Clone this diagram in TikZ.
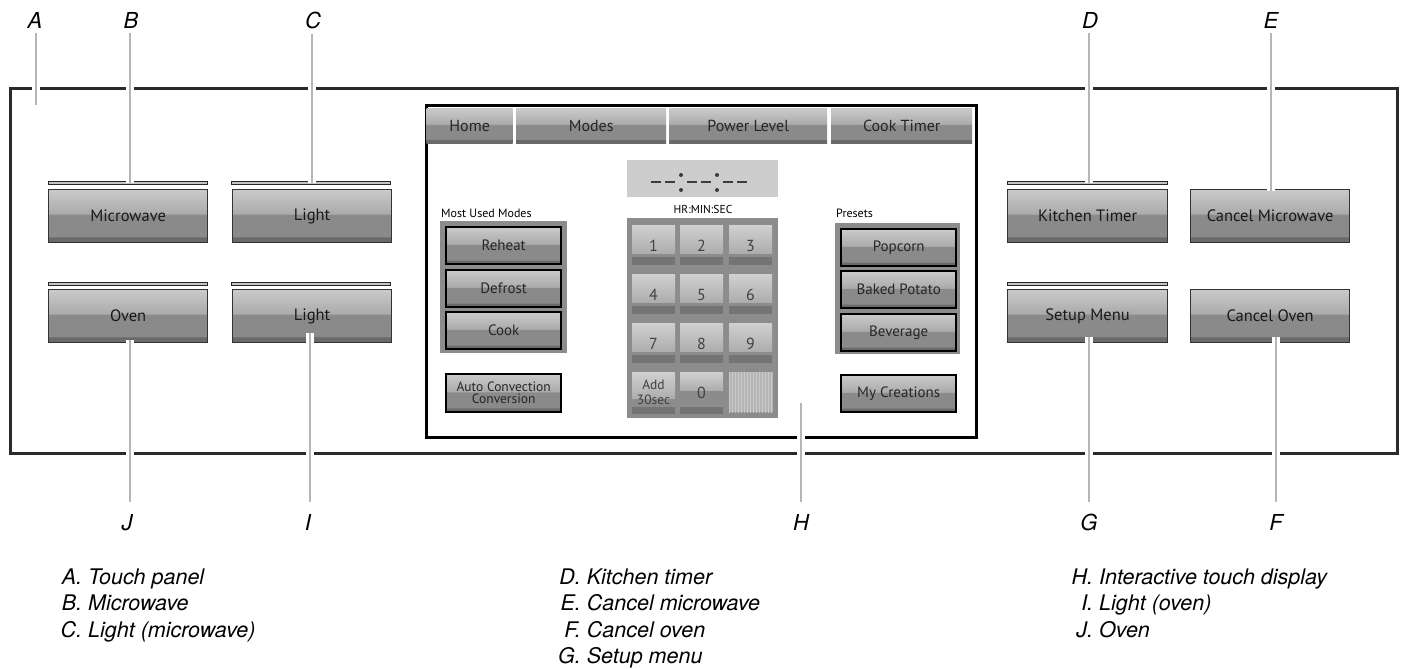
\documentclass[tikz,border=0pt]{standalone}
\usepackage{fontspec}
\newfontfamily\helv{TeX Gyre Heros}
\newfontfamily\uifont{PT Sans}
\usetikzlibrary{patterns}

\definecolor{panelline}{HTML}{2A2A2A}
\definecolor{btndark}{HTML}{6A6A6A}
\definecolor{btnmid}{HTML}{8A8A8A}
\definecolor{btnlow}{HTML}{ABABAB}
\definecolor{btntop}{HTML}{CACACA}
\definecolor{groupfill}{HTML}{8C8C8C}
\definecolor{leadergray}{HTML}{B6B6B6}
\definecolor{keylight}{HTML}{D0D0D0}
\definecolor{keylow}{HTML}{ADADAD}
\definecolor{keystrip}{HTML}{747474}
\definecolor{barfill}{HTML}{C4C4C4}
\definecolor{lcdfill}{HTML}{CDCDCD}
\definecolor{lcdink}{HTML}{3C3C3C}

% gradient used by every push button: dark foot, mid band, light top
\pgfdeclareverticalshading{btnshade}{100bp}{color(0bp)=(btndark); color(25bp)=(btndark); color(30bp)=(btndark); color(31bp)=(btnmid); color(51bp)=(btnmid); color(52.5bp)=(btnlow); color(75bp)=(btntop); color(100bp)=(btntop)}

\tikzset{
  hwbtn/.style={draw=black!80, line width=1.2pt, shading=btnshade, inner sep=0pt,
    minimum width=159pt, minimum height=53pt, anchor=north west,
    font=\uifont\fontsize{16.5}{18}\selectfont, text=black!90},
  sepbar/.style={draw=black!85, line width=1pt, fill=barfill, inner sep=0pt,
    minimum width=159pt, minimum height=3.5pt, anchor=center},
  tabbtn/.style={shading=btnshade, inner sep=0pt, minimum height=35pt, anchor=north west,
    font=\uifont\fontsize{16}{18}\selectfont, text=black!85},
  scrbtn/.style={draw=black, line width=2.4pt, shading=btnshade, inner sep=0pt,
    minimum width=115pt, minimum height=37pt, anchor=north west,
    font=\uifont\fontsize{15}{17}\selectfont, text=black!85},
  grouppanel/.style={fill=groupfill, inner sep=0pt, anchor=north west},
  keytop/.style={top color=keylight, bottom color=keylow, inner sep=0pt,
    minimum width=43pt, minimum height=28pt, anchor=north west},
  keynum/.style={font=\uifont\fontsize{16}{18}\selectfont, text=black!75, inner sep=0pt},
  smalltext/.style={font=\uifont\fontsize{12}{14}\selectfont, text=black, inner sep=0pt},
  callout/.style={font=\helv\itshape\fontsize{22}{22}\selectfont, inner sep=0pt, anchor=base},
  legend/.style={font=\helv\itshape\fontsize{21.5}{26.5}\selectfont, inner sep=0pt, anchor=base west},
  leader/.style={draw=leadergray, line width=1.8pt, preaction={draw=white, line width=8pt}},
}

\begin{document}
\begin{tikzpicture}[x=1pt,y=-1pt]
\useasboundingbox (0,0) rectangle (1401,669);
\fill[white] (0,0) rectangle (1401,669);

% ---- touch panel outline
\node[draw=panelline, line width=3pt, inner sep=0pt, minimum width=1387pt, minimum height=365pt,
      anchor=north west] (panel) at (9,87) {};

% ---- left button block
\node[sepbar] (barMW) at (127.5,183) {};
\node[sepbar] (barLU) at (311,183) {};
\node[sepbar] (barOV) at (127.5,284) {};
\node[sepbar] (barLL) at (311,284) {};
\node[hwbtn] (mw) at (48,189) {Microwave};
\node[hwbtn] (lu) at (232,189) {Light};
\node[hwbtn] (ov) at (48,289) {Oven};
\node[hwbtn] (ll) at (232,289) {Light};

% ---- right button block
\node[sepbar, minimum width=160pt] (barKT) at (1087,183) {};
\node[sepbar, minimum width=160pt] (barSM) at (1087,284) {};
\node[hwbtn, minimum width=160pt] (kt) at (1007,189) {Kitchen Timer};
\node[hwbtn] (cm) at (1190,189) {Cancel Microwave};
\node[hwbtn, minimum width=160pt] (sm) at (1007,289) {Setup Menu};
\node[hwbtn] (co) at (1190,289) {Cancel Oven};

% ---- interactive display
\node[draw=black, line width=3pt, inner sep=0pt, minimum width=550pt, minimum height=332pt,
      anchor=north west] (screen) at (425,104) {};
\node[tabbtn, minimum width=86pt] (tHome) at (426.5,108) {Home};
\node[tabbtn, minimum width=150pt] (tModes) at (516,108) {Modes};
\node[tabbtn, minimum width=158pt] (tPower) at (669,108) {Power Level};
\node[tabbtn, minimum width=141pt] (tCook) at (831,108) {Cook Timer};

% clock readout
\node[fill=lcdfill, inner sep=0pt, minimum width=151pt, minimum height=37pt, anchor=north west] (lcd) at (627,160) {};
\foreach \dx in {651,665,687,701,723,737}
  \draw[lcdink, line width=2.4pt] (\dx,182) -- ++(9.5,0);
\foreach \cx in {681,717}{
  \fill[lcdink] (\cx,175) circle (2pt);
  \fill[lcdink] (\cx,190) circle (2pt);
}
\node[smalltext, font=\uifont\fontsize{11.5}{13}\selectfont] (hms) at (703,209) {HR:MIN:SEC};

% most used modes
\node[smalltext, anchor=west] (mumLabel) at (441,213) {Most Used Modes};
\node[grouppanel, minimum width=127pt, minimum height=132pt] (mumPanel) at (440,221) {};
\node[scrbtn] (reheat) at (445,226) {Reheat};
\node[scrbtn] (defrost) at (445,269) {Defrost};
\node[scrbtn] (cook) at (445,311) {Cook};
\node[scrbtn, minimum height=38pt, align=center, font=\uifont\fontsize{13.5}{12}\selectfont] (acc) at (445,373) {Auto Convection\\Conversion};

% presets
\node[smalltext, anchor=west] (preLabel) at (836,213) {Presets};
\node[grouppanel, minimum width=125pt, minimum height=131pt] (prePanel) at (835,223) {};
\node[scrbtn] (popcorn) at (840,228) {Popcorn};
\node[scrbtn] (baked) at (840,270) {Baked Potato};
\node[scrbtn] (bev) at (840,313) {Beverage};
\node[scrbtn] (myc) at (840,374) {My Creations};

% keypad
\node[grouppanel, minimum width=151pt, minimum height=200pt] (keypad) at (627,218) {};
\foreach \c/\kx in {0/632,1/680,2/729}{
  \foreach \r/\ky in {0/225,1/274,2/323}{
    \pgfmathtruncatemacro\kn{\r*3+\c+1}
    \node[keytop] (key\kn) at (\kx,\ky) {};
    \node[keynum] (num\kn) at (\kx+21.5,\ky+21) {\kn};
    \fill[keystrip] (\kx,\ky+32) rectangle ++(43,8);
  }
}
\node[keytop, minimum height=26pt] (keyAdd) at (632,372) {};
\node[keynum, align=center, font=\uifont\fontsize{13.5}{15}\selectfont] (numAdd) at (653.5,392) {Add\\30sec};
\node[keytop, minimum height=18pt] (key0) at (680,372) {};
\node[keynum] (num0) at (701.5,393) {0};
\fill[keystrip] (632,407) rectangle ++(43,7);
\fill[keystrip] (680,407) rectangle ++(43,7);
\node[fill=gray!58, inner sep=0pt, minimum width=44pt, minimum height=40pt,
      anchor=north west] (keyBlank) at (729,372) {};
\fill[pattern=vertical lines, pattern color=gray!42] (729,372) rectangle (773,412);

% ---- callout letters
\node[callout] (lA) at (35,29) {A};
\node[callout] (lB) at (131,29) {B};
\node[callout] (lC) at (313,29) {C};
\node[callout] (lD) at (1090,29) {D};
\node[callout] (lE) at (1271,29) {E};
\node[callout] (lJ) at (127,530) {J};
\node[callout] (lI) at (308,530) {I};
\node[callout] (lH) at (801,530) {H};
\node[callout] (lG) at (1089,530) {G};
\node[callout] (lF) at (1276,530) {F};

% leader tips
\coordinate (tipA) at (36,105);
\coordinate (tipB) at (130,183);
\coordinate (tipC) at (312,183);
\coordinate (tipD) at (1089,183);
\coordinate (tipE) at (1271,191);
\coordinate (tipJ) at (130,340);
\coordinate (tipI) at (310,333);
\coordinate (tipH) at (801,403);
\coordinate (tipG) at (1089,337);
\coordinate (tipF) at (1276,337);
\coordinate (endJ) at (130,502);
\coordinate (endI) at (310,502);
\coordinate (endH) at (801,502);
\coordinate (endG) at (1089,502);
\coordinate (endF) at (1276,502);

\draw[leader] (lA.south -| tipA) ++(0,4) -- (tipA);
\draw[leader] (lB.south -| tipB) ++(0,4) -- (tipB);
\draw[leader] (lC.south -| tipC) ++(0,4) -- (tipC);
\draw[leader] (lD.south -| tipD) ++(0,4) -- (tipD);
\draw[leader] (lE.south -| tipE) ++(0,4) -- (tipE);
\draw[leader] (tipJ) -- (endJ);
\draw[leader] (tipI) -- (endI);
\draw[leader] (tipH) -- (endH);
\draw[leader] (tipG) -- (endG);
\draw[leader] (tipF) -- (endF);

% ---- key
\node[legend] (key1col) at (60.5,584) {\begin{tabular}[t]{@{}r@{ }l@{}}A.&Touch panel\\B.&Microwave\\C.&Light (microwave)\end{tabular}};
\node[legend] (key2col) at (558,584) {\begin{tabular}[t]{@{}r@{ }l@{}}D.&Kitchen timer\\E.&Cancel microwave\\F.&Cancel oven\\G.&Setup menu\end{tabular}};
\node[legend] (key3col) at (1071.5,584) {\begin{tabular}[t]{@{}r@{ }l@{}}H.&Interactive touch display\\I.&Light (oven)\\J.&Oven\end{tabular}};
\end{tikzpicture}
\end{document}
